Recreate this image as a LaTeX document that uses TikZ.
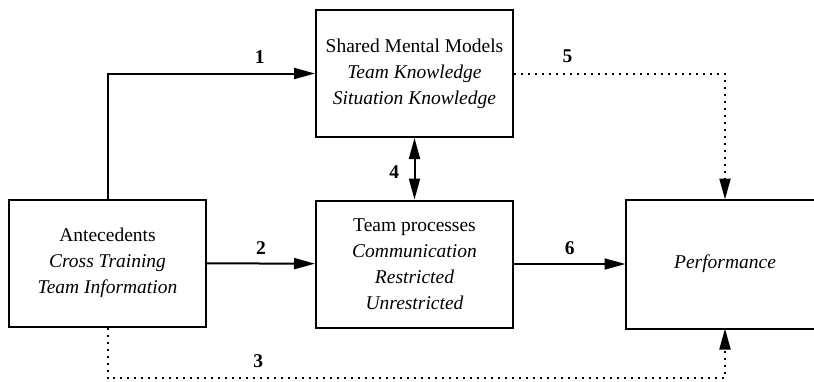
\documentclass[tikz,border=0pt]{standalone}
\usepackage{fontspec}
\setmainfont{Liberation Serif}
\usepackage{tikz}
\usetikzlibrary{arrows.meta,shapes}
\usetikzlibrary{calc}
\tikzstyle{block}=[rectangle,draw,line width=2pt,minimum width=197pt,minimum height=127pt,inner sep=0pt,align=center,font=\fontsize{19.5}{26}\selectfont]
\tikzstyle{edge} = [draw,line width=2pt,-{Triangle[length=21pt,width=11pt]}]
\tikzstyle{link} = [edge,dash pattern=on 2pt off 5pt]
\tikzstyle{weight} = [font=\fontsize{19.5}{23}\selectfont\bfseries]

\begin{document}
\begin{tikzpicture}[x=1pt,y=-1pt]

   \useasboundingbox (0,0) rectangle (814,381);
   \clip (0,0) rectangle (814,381);

    \foreach \pos/ \name / \label in {{(107.5,263)/ante/Antecedents\\\textit{Cross Training}\\\textit{Team Information}},
                                      {(414.5,73.5)/smm/Shared Mental Models\\\textit{Team Knowledge}\\\textit{Situation Knowledge}},
                                      {(414.5,264)/proc/Team processes\\\textit{Communication}\\\textit{Restricted}\\\textit{Unrestricted}}}
        \node[block] (\name) at \pos {\label};
    % performance box is open on the right, off the margin
    \node[block,draw=none] (perf) at (725,264) {\textit{Performance}};
    \draw[line width=2pt] (perf.north east) -- (perf.north west) -- (perf.south west) -- (perf.south east);
    \coordinate (low) at (725,378);

    % Connect boxes with edges and draw weights
    \draw[edge] (ante.north) |- node[weight,pos=0.867,above=6pt] {1} (smm.west);
    \foreach \source/ \dest/\weight in {ante/proc/2,proc/perf/6}
        \draw[edge] (\source) -- node[weight,above=5pt] {\weight} (\dest);
    \draw[edge,{Triangle[length=21pt,width=11pt]}-{Triangle[length=21pt,width=11pt]}] (smm.south) -- node[weight,pos=0.55,left=11pt] {4} (proc.north);

    % dotted links into performance
    \draw[link] (smm.east) -| node[weight,pos=0.127,above=6pt] {5} (perf.north);
    \draw[link] (ante.south) |- node[weight,pos=0.622,above=6pt] {3} (low) -- (perf.south);
       \end{tikzpicture}
\end{document}
